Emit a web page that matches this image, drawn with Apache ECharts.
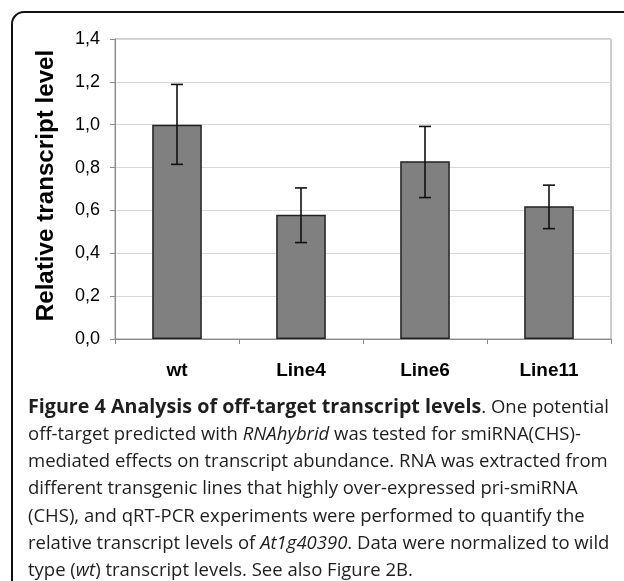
<!DOCTYPE html>
<html><head><meta charset="utf-8">
<script src="https://cdn.jsdelivr.net/npm/echarts@6/dist/echarts.min.js"></script>
<style>html,body{margin:0;padding:0;background:#fff}#c{width:624px;height:581px}</style>
</head><body><div id="c"></div>
<script>
const categories = ['wt', 'Line4', 'Line6', 'Line11'];
const values = [1.00, 0.58, 0.83, 0.62];
const errLow = [0.815, 0.45, 0.66, 0.515];
const errHigh = [1.188, 0.705, 0.992, 0.718];
const yAxisTitle = 'Relative transcript level';
const captionLines = [
  '{b|Figure 4 Analysis of off-target transcript levels}{r|. One potential}',
  '{r|off-target predicted with }{i|RNAhybrid}{r| was tested for smiRNA(CHS)-}',
  '{r|mediated effects on transcript abundance. RNA was extracted from}',
  '{r|different transgenic lines that highly over-expressed pri-smiRNA}',
  '{r|(CHS), and qRT-PCR experiments were performed to quantify the}',
  '{r|relative transcript levels of }{i|At1g40390}{r|. Data were normalized to wild}',
  '{r|type (}{i|wt}{r|) transcript levels. See also Figure 2B.}'
];

const capFont = '"Open Sans", sans-serif';
const capSize = 18.5;
const capBold = 19.7;
const capColor = '#1e1e1e';
const firstBaseline = 418.5, lineStep = 27.2;

const chart = echarts.init(document.getElementById('c'), null, {renderer: 'canvas'});

const graphics = [{
  type: 'rect', z: 0, silent: true,
  shape: {x: 12, y: 12, width: 700, height: 700, r: 12},
  style: {fill: 'none', stroke: '#111', lineWidth: 2}
}];
captionLines.forEach((t, k) => {
  graphics.push({
    type: 'text', z: 10,
    x: 28, y: firstBaseline + k * lineStep,
    style: {
      text: t,
      font: capSize + 'px ' + capFont,
      fill: capColor,
      lineHeight: 22,
      verticalAlign: 'bottom',
      rich: {
        b: {fontFamily: capFont, fontSize: capBold, fontWeight: 'bold', fill: capColor, lineHeight: 22},
        r: {fontFamily: capFont, fontSize: capSize, fill: capColor, lineHeight: 22},
        i: {fontFamily: capFont, fontSize: capSize, fontStyle: 'italic', fill: capColor, lineHeight: 22}
      }
    }
  });
});

chart.setOption({
  animation: false,
  backgroundColor: '#fff',
  grid: {left: 115, right: 13, top: 39, bottom: 242, show: true, borderColor: '#9a9a9a', borderWidth: 1, containLabel: false},
  xAxis: {
    type: 'category', data: categories,
    axisLine: {lineStyle: {color: '#8a8a8a', width: 1}},
    axisTick: {show: true, length: 5, lineStyle: {color: '#8a8a8a'}},
    axisLabel: {margin: 22, color: '#000', fontFamily: 'Liberation Sans, Arial', fontWeight: 'bold', fontSize: 19}
  },
  yAxis: {
    type: 'value', min: 0, max: 1.4, interval: 0.2,
    name: yAxisTitle, nameLocation: 'middle', nameGap: 57, nameRotate: 90,
    nameTextStyle: {fontFamily: 'Liberation Sans, Arial', fontWeight: 'bold', fontSize: 24.2, color: '#000', padding: [0, 0, 0, 7]},
    axisLine: {show: true, lineStyle: {color: '#8a8a8a', width: 1}},
    axisTick: {show: true, length: 5, lineStyle: {color: '#8a8a8a'}},
    axisLabel: {margin: 15, color: '#000', fontFamily: 'Liberation Sans, Arial', fontSize: 18,
      formatter: v => v.toFixed(1).replace('.', ',')},
    splitLine: {lineStyle: {color: '#d8d8d8', width: 1}}
  },
  series: [{
    type: 'bar', data: values, barWidth: '40%',
    itemStyle: {color: '#808080', borderColor: '#222', borderWidth: 1.5}
  }, {
    type: 'custom', z: 5,
    data: categories.map((c, i) => [i, errLow[i], errHigh[i]]),
    renderItem: function (params, api) {
      const lo = api.coord([api.value(0), api.value(1)]);
      const hi = api.coord([api.value(0), api.value(2)]);
      const hw = 6;
      const st = {stroke: '#111', lineWidth: 1.6};
      return {type: 'group', children: [
        {type: 'line', shape: {x1: lo[0], y1: lo[1], x2: hi[0], y2: hi[1]}, style: st},
        {type: 'line', shape: {x1: lo[0] - hw, y1: lo[1], x2: lo[0] + hw, y2: lo[1]}, style: st},
        {type: 'line', shape: {x1: hi[0] - hw, y1: hi[1], x2: hi[0] + hw, y2: hi[1]}, style: st}
      ]};
    }
  }],
  graphic: graphics
});
</script></body></html>
